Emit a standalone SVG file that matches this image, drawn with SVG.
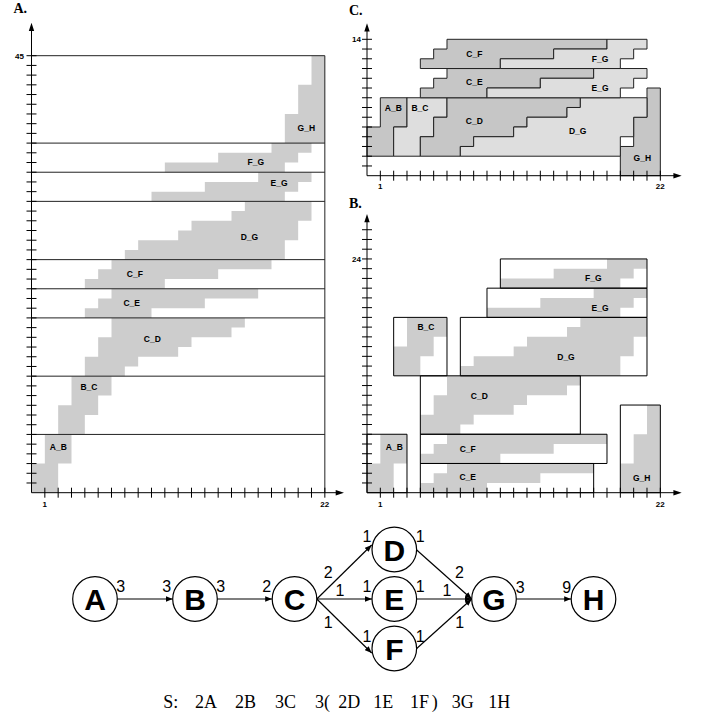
<svg xmlns="http://www.w3.org/2000/svg" xmlns:xlink="http://www.w3.org/1999/xlink" width="702" height="719" viewBox="0 0 702 719">
  <style>
    .ns { vector-effect: non-scaling-stroke; }
    .ln { fill: none; stroke: #000; stroke-width: 1; }
    .band { fill: none; stroke: #222; stroke-width: 1; }
    .tk { fill: none; stroke: #000; stroke-width: 1; }
    .g0 { fill: #cdcdcd; stroke: none; }
    .gd { fill: #c6c6c6; stroke: #222; stroke-width: 1; }
    .gl { fill: #dedede; stroke: #222; stroke-width: 1; }
    .box { fill: #fff; stroke: none; }
    .boxo { fill: none; stroke: #000; stroke-width: 1; }
    .lb { font: bold 8.5px 'Liberation Sans', Arial, sans-serif; text-anchor: middle; fill: #000; }
    .ax { font: bold 8px 'Liberation Sans', Arial, sans-serif; fill: #000; }
    .ttl { font: bold 14px 'Liberation Serif', 'Times New Roman', serif; fill: #000; }
    .node circle { fill: #fff; stroke: #000; stroke-width: 1.2; }
    .node text { font: bold 30px 'Liberation Sans', Arial, sans-serif; text-anchor: middle; fill: #000; }
    .edge { fill: none; stroke: #000; stroke-width: 1.2; marker-end: url(#ah); }
    .rate { font: 16px 'Liberation Sans', Arial, sans-serif; text-anchor: middle; fill: #000; }
    .sched { font: 18px 'Liberation Serif', 'Times New Roman', serif; fill: #000; }
  </style>
  <defs>
    <!-- buffer lifetime staircases, unit coordinates: x = time step, y = token slot -->
    <path id="s-ab" class="ns" d="M0 0H2V3H3V6H1V3H0Z"/>
    <path id="s-bc" class="ns" d="M2 0H4V2H5V4H6V6H3V3H2Z"/>
    <path id="s-cd" class="ns" d="M4 0H7V1H8V2H11V3H12V4H15V5H16V6H6V4H5V2H4Z"/>
    <path id="s-ce" class="ns" d="M4 0H9V1H13V2H17V3H6V2H5V1H4Z"/>
    <path id="s-cf" class="ns" d="M4 0H10V1H14V2H18V3H6V2H5V1H4Z"/>
    <path id="s-dg" class="ns" d="M7 0H19V2H20V4H21V6H16V5H15V4H12V3H11V2H8V1H7Z"/>
    <path id="s-eg" class="ns" d="M9 0H19V1H20V2H21V3H17V2H13V1H9Z"/>
    <path id="s-fg" class="ns" d="M10 0H19V1H20V2H21V3H18V2H14V1H10Z"/>
    <path id="s-gh" class="ns" d="M19 0H22V9H21V6H20V3H19Z"/>
    <marker id="ah" viewBox="0 0 7 5.5" refX="7" refY="2.75" markerWidth="7" markerHeight="5.5" orient="auto" markerUnits="userSpaceOnUse">
      <path d="M0 0L7 2.75L0 5.5Z" fill="#000"/>
    </marker>
  </defs>

  <!-- A. non-shared buffers -->
  <g id="panel-a">
    <text class="ttl" x="13.5" y="12.7">A.</text>
    <g transform="translate(31.5 492.7) scale(13.3333 -9.7111)">
      <g class="g0">
        <use xlink:href="#s-ab"/>
        <use xlink:href="#s-bc" transform="translate(0 6)"/>
        <use xlink:href="#s-cd" transform="translate(0 12)"/>
        <use xlink:href="#s-ce" transform="translate(0 18)"/>
        <use xlink:href="#s-cf" transform="translate(0 21)"/>
        <use xlink:href="#s-dg" transform="translate(0 24)"/>
        <use xlink:href="#s-eg" transform="translate(0 30)"/>
        <use xlink:href="#s-fg" transform="translate(0 33)"/>
        <use xlink:href="#s-gh" transform="translate(0 36)"/>
      </g>
      <path class="band ns" d="M0 6H22M0 12H22M0 18H22M0 21H22M0 24H22M0 30H22M0 33H22M0 36H22M0 45H22V0"/>
      <path class="tk ns" d="M-.375 1h.75M-.375 2h.75M-.375 3h.75M-.375 4h.75M-.375 5h.75M-.375 6h.75M-.375 7h.75M-.375 8h.75M-.375 9h.75M-.375 10h.75M-.375 11h.75M-.375 12h.75M-.375 13h.75M-.375 14h.75M-.375 15h.75M-.375 16h.75M-.375 17h.75M-.375 18h.75M-.375 19h.75M-.375 20h.75M-.375 21h.75M-.375 22h.75M-.375 23h.75M-.375 24h.75M-.375 25h.75M-.375 26h.75M-.375 27h.75M-.375 28h.75M-.375 29h.75M-.375 30h.75M-.375 31h.75M-.375 32h.75M-.375 33h.75M-.375 34h.75M-.375 35h.75M-.375 36h.75M-.375 37h.75M-.375 38h.75M-.375 39h.75M-.375 40h.75M-.375 41h.75M-.375 42h.75M-.375 43h.75M-.375 44h.75M-.375 45h.75"/>
      <path class="tk ns" d="M1 -.515v1.03M2 -.515v1.03M3 -.515v1.03M4 -.515v1.03M5 -.515v1.03M6 -.515v1.03M7 -.515v1.03M8 -.515v1.03M9 -.515v1.03M10 -.515v1.03M11 -.515v1.03M12 -.515v1.03M13 -.515v1.03M14 -.515v1.03M15 -.515v1.03M16 -.515v1.03M17 -.515v1.03M18 -.515v1.03M19 -.515v1.03M20 -.515v1.03M21 -.515v1.03M22 -.515v1.03"/>
    </g>
    <path class="ln" d="M31.5 492.7V29M31.5 492.7H337"/>
    <path d="M31.5 22.7L28.8 31H34.2Z M344 492.7L335.7 490V495.4Z" fill="#000"/>
    <text class="ax" x="24" y="58.5" text-anchor="end">45</text>
    <text class="ax" x="44.8" y="507" text-anchor="middle">1</text>
    <text class="ax" x="324.8" y="507" text-anchor="middle">22</text>
    <text class="lb" x="58.3" y="449.7">A_B</text>
    <text class="lb" x="89" y="389.7">B_C</text>
    <text class="lb" x="152.3" y="342">C_D</text>
    <text class="lb" x="131.7" y="305.7">C_E</text>
    <text class="lb" x="134.8" y="277">C_F</text>
    <text class="lb" x="249.4" y="240">D_G</text>
    <text class="lb" x="279" y="185.8">E_G</text>
    <text class="lb" x="255.8" y="164.7">F_G</text>
    <text class="lb" x="306.3" y="131.3">G_H</text>
  </g>

  <!-- C. shared buffer layout -->
  <g id="panel-c">
    <text class="ttl" x="349" y="15">C.</text>
    <g transform="translate(367 175.7) scale(13.3333 -9.743)">
      <use xlink:href="#s-gh" class="gd"/>
      <use xlink:href="#s-ab" class="gd" transform="translate(0 2)"/>
      <use xlink:href="#s-bc" class="gl" transform="translate(0 2)"/>
      <use xlink:href="#s-cd" class="gd" transform="translate(0 2)"/>
      <use xlink:href="#s-dg" class="gl" transform="translate(0 2)"/>
      <use xlink:href="#s-ce" class="gd" transform="translate(0 8)"/>
      <use xlink:href="#s-eg" class="gl" transform="translate(0 8)"/>
      <use xlink:href="#s-cf" class="gd" transform="translate(0 11)"/>
      <use xlink:href="#s-fg" class="gl" transform="translate(0 11)"/>
      <path class="tk ns" d="M-.375 1h.75M-.375 2h.75M-.375 3h.75M-.375 4h.75M-.375 5h.75M-.375 6h.75M-.375 7h.75M-.375 8h.75M-.375 9h.75M-.375 10h.75M-.375 11h.75M-.375 12h.75M-.375 13h.75M-.375 14h.75"/>
      <path class="tk ns" d="M1 -.513v1.026M2 -.513v1.026M3 -.513v1.026M4 -.513v1.026M5 -.513v1.026M6 -.513v1.026M7 -.513v1.026M8 -.513v1.026M9 -.513v1.026M10 -.513v1.026M11 -.513v1.026M12 -.513v1.026M13 -.513v1.026M14 -.513v1.026M15 -.513v1.026M16 -.513v1.026M17 -.513v1.026M18 -.513v1.026M19 -.513v1.026M20 -.513v1.026M21 -.513v1.026M22 -.513v1.026"/>
    </g>
    <path class="ln" d="M367 175.7V30M367 175.7H674"/>
    <path d="M367 23.3L364.3 31.5H369.7Z M681.7 175.7L673.4 173V178.4Z" fill="#000"/>
    <text class="ax" x="361" y="42" text-anchor="end">14</text>
    <text class="ax" x="380.3" y="189" text-anchor="middle">1</text>
    <text class="ax" x="660.3" y="189" text-anchor="middle">22</text>
    <text class="lb" x="393.3" y="110.7">A_B</text>
    <text class="lb" x="420" y="110.7">B_C</text>
    <text class="lb" x="474.3" y="123.7">C_D</text>
    <text class="lb" x="577.7" y="134">D_G</text>
    <text class="lb" x="474.3" y="85.3">C_E</text>
    <text class="lb" x="600" y="91.3">E_G</text>
    <text class="lb" x="474.3" y="57.3">C_F</text>
    <text class="lb" x="600" y="62.3">F_G</text>
    <text class="lb" x="642.3" y="160.7">G_H</text>
  </g>

  <!-- B. buffers packed as boxes -->
  <g id="panel-b">
    <text class="ttl" x="349" y="207.5">B.</text>
    <g transform="translate(367 492.7) scale(13.3333 -9.74)">
      <g class="box">
        <rect x="0" y="0" width="3" height="6"/>
        <rect x="4" y="0" width="13" height="3"/>
        <rect x="4" y="3" width="14" height="3"/>
        <rect x="4" y="6" width="12" height="6"/>
        <rect x="2" y="12" width="4" height="6"/>
        <rect x="7" y="12" width="14" height="6"/>
        <rect x="9" y="18" width="12" height="3"/>
        <rect x="10" y="21" width="11" height="3"/>
        <rect x="19" y="0" width="3" height="9"/>
      </g>
      <g class="g0">
        <use xlink:href="#s-ab"/>
        <use xlink:href="#s-ce"/>
        <use xlink:href="#s-cf" transform="translate(0 3)"/>
        <use xlink:href="#s-cd" transform="translate(0 6)"/>
        <use xlink:href="#s-bc" transform="translate(0 12)"/>
        <use xlink:href="#s-dg" transform="translate(0 12)"/>
        <use xlink:href="#s-eg" transform="translate(0 18)"/>
        <use xlink:href="#s-fg" transform="translate(0 21)"/>
        <use xlink:href="#s-gh"/>
      </g>
      <g class="boxo">
        <rect class="ns" x="0" y="0" width="3" height="6"/>
        <rect class="ns" x="4" y="0" width="13" height="3"/>
        <rect class="ns" x="4" y="3" width="14" height="3"/>
        <rect class="ns" x="4" y="6" width="12" height="6"/>
        <rect class="ns" x="2" y="12" width="4" height="6"/>
        <rect class="ns" x="7" y="12" width="14" height="6"/>
        <rect class="ns" x="9" y="18" width="12" height="3"/>
        <rect class="ns" x="10" y="21" width="11" height="3"/>
        <rect class="ns" x="19" y="0" width="3" height="9"/>
      </g>
      <path class="tk ns" d="M-.375 1h.75M-.375 2h.75M-.375 3h.75M-.375 4h.75M-.375 5h.75M-.375 6h.75M-.375 7h.75M-.375 8h.75M-.375 9h.75M-.375 10h.75M-.375 11h.75M-.375 12h.75M-.375 13h.75M-.375 14h.75M-.375 15h.75M-.375 16h.75M-.375 17h.75M-.375 18h.75M-.375 19h.75M-.375 20h.75M-.375 21h.75M-.375 22h.75M-.375 23h.75M-.375 24h.75M-.375 25h.75M-.375 26h.75M-.375 27h.75"/>
      <path class="tk ns" d="M1 -.513v1.026M2 -.513v1.026M3 -.513v1.026M4 -.513v1.026M5 -.513v1.026M6 -.513v1.026M7 -.513v1.026M8 -.513v1.026M9 -.513v1.026M10 -.513v1.026M11 -.513v1.026M12 -.513v1.026M13 -.513v1.026M14 -.513v1.026M15 -.513v1.026M16 -.513v1.026M17 -.513v1.026M18 -.513v1.026M19 -.513v1.026M20 -.513v1.026M21 -.513v1.026M22 -.513v1.026"/>
    </g>
    <path class="ln" d="M367 492.7V221M367 492.7H674"/>
    <path d="M367 214L364.3 222.2H369.7Z M681.7 492.7L673.4 490V495.4Z" fill="#000"/>
    <text class="ax" x="361" y="262" text-anchor="end">24</text>
    <text class="ax" x="380.3" y="507" text-anchor="middle">1</text>
    <text class="ax" x="660.3" y="507" text-anchor="middle">22</text>
    <text class="lb" x="394.3" y="450.3">A_B</text>
    <text class="lb" x="467.7" y="479.7">C_E</text>
    <text class="lb" x="467.7" y="451.7">C_F</text>
    <text class="lb" x="479.3" y="398.7">C_D</text>
    <text class="lb" x="426" y="329.7">B_C</text>
    <text class="lb" x="566" y="359.7">D_G</text>
    <text class="lb" x="600" y="310.7">E_G</text>
    <text class="lb" x="593.3" y="280.7">F_G</text>
    <text class="lb" x="641.7" y="481.3">G_H</text>
  </g>

  <!-- SDF graph -->
  <g id="edges">
    <path id="e-ab" class="edge" d="M117.3 599H172.7"/>
    <path id="e-bc" class="edge" d="M217.3 599H272.2"/>
    <path id="e-cd" class="edge" d="M316.8 599L371.7 545"/>
    <path id="e-ce" class="edge" d="M316.8 599H372"/>
    <path id="e-cf" class="edge" d="M316.8 599L371.7 653"/>
    <path id="e-dg" class="edge" d="M416.7 550L471.7 599"/>
    <path id="e-eg" class="edge" d="M416.6 599H471.7"/>
    <path id="e-fg" class="edge" d="M416.7 648.5L471.7 599"/>
    <path id="e-gh" class="edge" d="M516.3 599H571.2"/>
  </g>
  <g id="rates" class="rate">
    <text x="120.8" y="591.7">3</text>
    <text x="166.8" y="591.7">3</text>
    <text x="220.8" y="591.7">3</text>
    <text x="266.8" y="591.7">2</text>
    <text x="328.3" y="578.3">2</text>
    <text x="340" y="596">1</text>
    <text x="328.3" y="628.3">1</text>
    <text x="367" y="541.7">1</text>
    <text x="420.3" y="541.7">1</text>
    <text x="367" y="591.7">1</text>
    <text x="420.3" y="591.7">1</text>
    <text x="367" y="641.7">1</text>
    <text x="420.3" y="641.7">1</text>
    <text x="459.5" y="578.3">2</text>
    <text x="447" y="596">1</text>
    <text x="459.7" y="628.3">1</text>
    <text x="520.2" y="592.7">3</text>
    <text x="566.8" y="592.7">9</text>
  </g>
  <g id="node-A" class="node"><circle cx="95" cy="599" r="22.3"/><text x="95" y="610">A</text></g>
  <g id="node-B" class="node"><circle cx="195" cy="599" r="22.3"/><text x="195" y="610">B</text></g>
  <g id="node-C" class="node"><circle cx="294.5" cy="599" r="22.3"/><text x="294.5" y="610">C</text></g>
  <g id="node-D" class="node"><circle cx="394.3" cy="549.5" r="22.3"/><text x="394.3" y="560.5">D</text></g>
  <g id="node-E" class="node"><circle cx="394.3" cy="599" r="22.3"/><text x="394.3" y="610">E</text></g>
  <g id="node-F" class="node"><circle cx="394.3" cy="648.5" r="22.3"/><text x="394.3" y="659.5">F</text></g>
  <g id="node-G" class="node"><circle cx="494" cy="599" r="22.3"/><text x="494" y="610">G</text></g>
  <g id="node-H" class="node"><circle cx="593.5" cy="599" r="22.3"/><text x="593.5" y="610">H</text></g>

  <!-- schedule -->
  <g id="schedule" class="sched">
    <text x="163.3" y="707.5">S:</text>
    <text x="195" y="707.5">2A</text>
    <text x="235" y="707.5">2B</text>
    <text x="275" y="707.5">3C</text>
    <text x="315" y="707.5">3(</text>
    <text x="338.3" y="707.5">2D</text>
    <text x="373.3" y="707.5">1E</text>
    <text x="410" y="707.5">1F</text>
    <text x="431.7" y="707.5">)</text>
    <text x="451.7" y="707.5">3G</text>
    <text x="488.3" y="707.5">1H</text>
  </g>
</svg>
